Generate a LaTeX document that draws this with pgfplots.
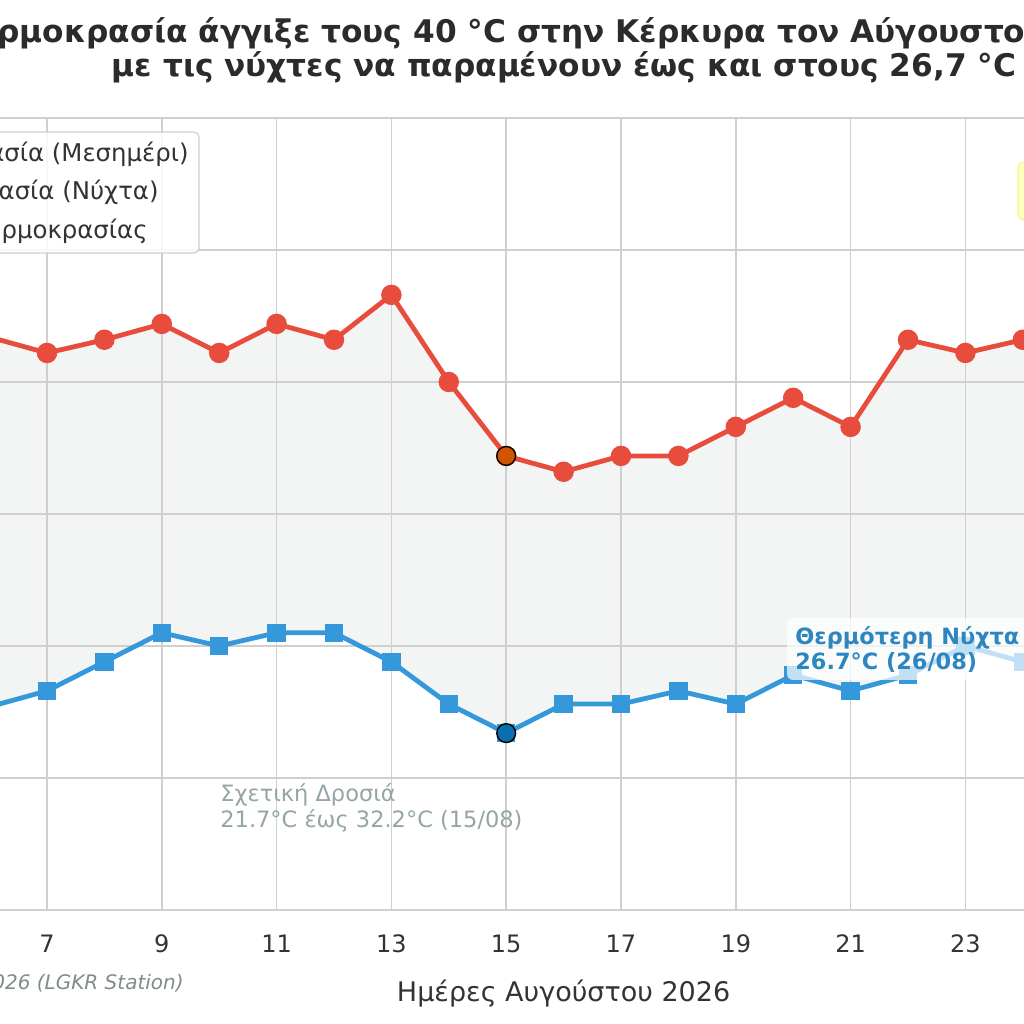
\documentclass[border=0pt]{standalone}
\usepackage{pgfplots}
\pgfplotsset{compat=1.18}
\usepgfplotslibrary{fillbetween}
\usepackage{pgfplotstable}
\usepackage{fontspec}
\setmainfont{DejaVu Sans}
\definecolor{redline}{HTML}{E74C3C}
\definecolor{blueline}{HTML}{3498DB}
\definecolor{fillgray}{HTML}{F3F5F5}
\definecolor{gridgray}{HTML}{CFCFCF}
\definecolor{textdark}{HTML}{333333}
\definecolor{titledark}{HTML}{2B2B2B}
\definecolor{annogray}{HTML}{95A5A6}
\definecolor{annoblue}{HTML}{2E86C1}
\definecolor{hlorange}{HTML}{D35400}
\definecolor{hlblue}{HTML}{0A6FB0}
\definecolor{srcgray}{HTML}{7F8C8D}
\definecolor{yelfill}{HTML}{FFFFBE}
\definecolor{yeldraw}{HTML}{F2F29A}

\pgfplotstableread{
day tmax tmin
5 36.1 22.8
6 36.7 22.7
7 36.1 23.3
8 36.6 24.4
9 37.2 25.5
10 36.1 25.0
11 37.2 25.5
12 36.6 25.5
13 38.3 24.4
14 35.0 22.8
15 32.2 21.7
16 31.6 22.8
17 32.2 22.8
18 32.2 23.3
19 33.3 22.8
20 34.4 23.9
21 33.3 23.3
22 36.6 23.9
23 36.1 25.0
24 36.6 24.4
25 37.8 25.6
}\datatable

\begin{document}
\begin{tikzpicture}
\begin{axis}[
  set layers,
  at={(-163.05pt,57pt)}, anchor=south west,
  scale only axis, width=889.7pt, height=396pt,
  xmin=0.5, xmax=31.5, ymin=15, ymax=45,
  xtick={1,3,...,31}, ytick={15,20,...,45},
  yticklabels={},
  grid=major,
  major grid style={draw=gridgray, line width=0.8pt},
  major tick length=0pt,
  axis line style={draw=gridgray, line width=0.8pt},
  /pgf/number format/assume math mode=true,
  xticklabel style={font=\fontsize{12}{14}\selectfont, text=textdark, anchor=base, yshift=-21.5pt},
  xlabel={Ημέρες Αυγούστου 2026},
  xlabel style={at={(axis description cs:0.5,0)}, anchor=base, yshift=-46pt, font=\fontsize{13.5}{16}\selectfont, text=textdark},
]
\addplot[name path=tmax, draw=redline, line width=2.4pt, mark=*, mark size=3.9pt, mark options={fill=redline, draw=none}] table[x=day,y=tmax]{\datatable};
\addplot[name path=tmin, draw=blueline, line width=2.4pt, mark=square*, mark size=3.4pt, mark options={fill=blueline, draw=none}] table[x=day,y=tmin]{\datatable};
\addplot[fill=fillgray, draw=none] fill between[of=tmax and tmin, on layer=axis background];
\addplot[only marks, mark=*, mark size=4.7pt, mark options={fill=hlorange, draw=black, line width=0.7pt}] coordinates {(15,32.2)};
\addplot[only marks, mark=*, mark size=4.7pt, mark options={fill=hlblue, draw=black, line width=0.7pt}] coordinates {(15,21.7)};
\end{axis}

% title
\node[anchor=base west, inner sep=0, font=\bfseries\fontsize{15.6}{19}\selectfont, text=titledark] (t1) at (-1.5pt,490.5pt) {ρμοκρασία άγγιξε τους 40 °C στην Κέρκυρα τον Αύγουστο 2026,};
\node[anchor=base east, inner sep=0, font=\bfseries\fontsize{15.6}{19}\selectfont, text=titledark] at (t1.base west) {Η θε};
\node[anchor=base, inner sep=0, font=\bfseries\fontsize{15.6}{19}\selectfont, text=titledark] at (282pt,473.5pt) {με τις νύχτες να παραμένουν έως και στους 26,7 °C};

% legend
\draw[draw=gridgray, line width=0.6pt, fill=white, fill opacity=0.85, rounded corners=2.5pt] (-10pt,446pt) rectangle (99.5pt,385.5pt);
\node[anchor=base east, inner sep=0, font=\fontsize{12.2}{14}\selectfont, text=textdark] at (94.5pt,431.2pt) {Μέγιστη Θερμοκρασία (Μεσημέρι)};
\node[anchor=base east, inner sep=0, font=\fontsize{12.2}{14}\selectfont, text=textdark] at (79.5pt,412pt) {Ελάχιστη Θερμοκρασία (Νύχτα)};
\node[anchor=base east, inner sep=0, font=\fontsize{12.2}{14}\selectfont, text=textdark] at (74pt,392.5pt) {Εύρος Θερμοκρασίας};

% yellow box (cut off)
\draw[draw=yeldraw, line width=0.6pt, fill=yelfill, rounded corners=3pt] (509pt,431pt) rectangle (560pt,402pt);

% annotations
\node[anchor=base west, inner sep=0, font=\fontsize{11.25}{13}\selectfont, text=annogray] at (110pt,111pt) {Σχετική Δροσιά};
\node[anchor=base west, inner sep=0, font=\fontsize{11.25}{13}\selectfont, text=annogray] at (110pt,98pt) {21.7°C έως 32.2°C (15/08)};

\fill[white, fill opacity=0.7, rounded corners=3pt] (393.5pt,203pt) rectangle (560pt,172pt);
\node[anchor=base west, inner sep=0, font=\bfseries\fontsize{11.2}{14}\selectfont, text=annoblue] at (397.5pt,189.5pt) {Θερμότερη Νύχτα};
\node[anchor=base west, inner sep=0, font=\bfseries\fontsize{11.2}{14}\selectfont, text=annoblue] at (397.5pt,177pt) {26.7°C (26/08)};

% source
\node[anchor=base east, inner sep=0, font=\itshape\fontsize{10}{12}\selectfont, text=srcgray] at (92pt,17pt) {Πηγή: Δεδομένα Αυγούστου 2026 (LGKR Station)};

\pgfresetboundingbox
\useasboundingbox (0,0) rectangle (512pt,512pt);
\end{tikzpicture}
\end{document}
